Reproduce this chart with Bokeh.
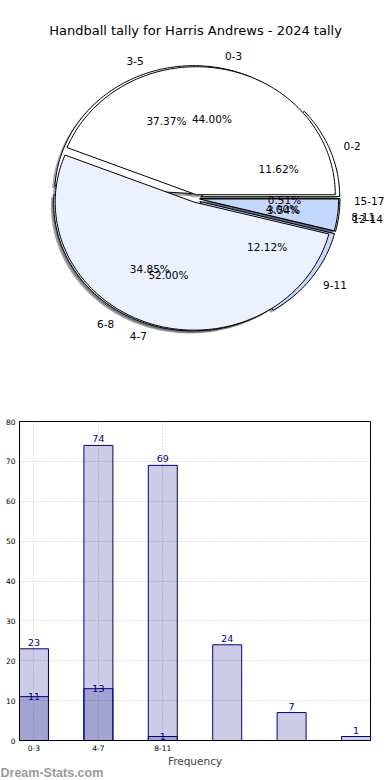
import numpy as np
from bokeh.plotting import figure
from bokeh.models import ColumnDataSource, Label, FixedTicker, Range1d, Title
from bokeh.embed import file_html
from bokeh.resources import INLINE
from bokeh.core.properties import value

# ---------------- data ----------------
chart_title = "Handball tally for Harris Andrews - 2024 tally"
fine_labels = ["0-2", "3-5", "6-8", "9-11", "12-14", "15-17"]
fine_counts = [23, 74, 69, 24, 7, 1]
coarse_labels = ["0-3", "4-7", "8-11"]
coarse_counts = [11, 13, 1]
x_axis_title = "Frequency"
y_tick_values = [0, 10, 20, 30, 40, 50, 60, 70, 80]
watermark_text = "Dream-Stats.com"

# ---------------- styles ----------------
FONT = "DejaVu Sans"
fine_colors = ["#ffffff", "#ffffff", "#ebf1fe", "#c4d7fc", "#c4d7fc", "#9fbff9"]
coarse_colors = ["#ffffff", "#ebf1fe", "#c4d7fc"]
BAR_COLOR = "navy"

PW, PH = 390, 400          # pie figure size
RX, RY = 139.0, 128.0      # pie radii in px
CX, CY = 195.0, 198.0      # pie centre, px from figure top-left


def shade(hexcol):
    h = hexcol.lstrip("#")
    r, g, b = (int(h[i:i + 2], 16) for i in (0, 2, 4))
    return "#%02x%02x%02x" % (int(r * 0.3), int(g * 0.3), int(b * 0.3))


def pie_parts(counts, names, explode, colors):
    fr = np.asarray(counts, float) / float(sum(counts))
    ends = np.cumsum(fr) * 2 * np.pi
    starts = ends - fr * 2 * np.pi
    mids = (starts + ends) / 2
    ox = explode * np.cos(mids)
    oy = explode * np.sin(mids)
    xs, ys, sxs, sys_ = [], [], [], []
    for s, e, x0, y0 in zip(starts, ends, ox, oy):
        n = max(int((e - s) / (2 * np.pi) * 240) + 3, 4)
        t = np.linspace(s, e, n)
        px = np.concatenate([[x0], x0 + np.cos(t)])
        py = np.concatenate([[y0], y0 + np.sin(t)])
        xs.append(px.tolist()); ys.append(py.tolist())
        sxs.append((px - 0.02).tolist()); sys_.append((py - 0.02).tolist())
    wedges = dict(xs=xs, ys=ys, fill=list(colors))
    shadows = dict(xs=sxs, ys=sys_, fill=[shade(c) for c in colors])
    lx = ox + 1.1 * np.cos(mids)
    ly = oy + 1.1 * np.sin(mids)
    px_ = ox + 0.6 * np.cos(mids)
    py_ = oy + 0.6 * np.sin(mids)
    pct = ["%.2f%%" % (f * 100) for f in fr]
    left = dict(x=[], y=[], t=[])
    right = dict(x=[], y=[], t=[])
    for x, y, nm in zip(lx, ly, names):
        d = left if x > 0 else right
        d["x"].append(x); d["y"].append(y); d["t"].append(nm)
    pcts = dict(x=px_.tolist(), y=py_.tolist(), t=pct)
    return wedges, shadows, left, right, pcts


fine = pie_parts(fine_counts, fine_labels, 0.04, fine_colors)
coarse = pie_parts(coarse_counts, coarse_labels, 0.03, coarse_colors)

pie = figure(width=PW, height=PH, output_backend="svg", toolbar_location=None,
             x_range=Range1d(-CX / RX, (PW - CX) / RX),
             y_range=Range1d(-(PH - CY) / RY, CY / RY),
             x_axis_type=None, y_axis_type=None, min_border=0)
pie.outline_line_color = None
pie.grid.visible = False

for part in (fine, coarse):
    pie.patches("xs", "ys", source=ColumnDataSource(part[1]), fill_color="fill",
                fill_alpha=0.5, line_color=None)
for part in (fine, coarse):
    pie.patches("xs", "ys", source=ColumnDataSource(part[0]), fill_color="fill",
                line_color="black", line_width=1)
for part in (fine, coarse):
    for src, al in ((part[2], "left"), (part[3], "right"), (part[4], "center")):
        pie.text("x", "y", "t", source=ColumnDataSource(src), text_align=al,
                 text_baseline="middle", text_font=value(FONT), text_font_size="10.5px",
                 text_color="black")

pie.add_layout(Label(x=195, y=PH - 30, x_units="screen", y_units="screen",
                     text=chart_title, text_align="center", text_baseline="middle",
                     text_font=FONT, text_font_size="13px", text_color="black"))

# ---------------- bar chart ----------------
fine_x = list(range(len(fine_counts)))
coarse_x = list(range(len(coarse_counts)))

bar = figure(width=390, height=380, output_backend="svg", toolbar_location=None,
             x_range=Range1d(-0.225, len(fine_counts) - 1 + 0.225),
             y_range=Range1d(y_tick_values[0], y_tick_values[-1]),
             min_border_left=19, min_border_right=20, min_border_top=21,
             min_border_bottom=40)
bar.outline_line_color = "black"
bar.outline_line_alpha = 1

bar.vbar(x=fine_x, top=fine_counts, width=0.45, fill_color=BAR_COLOR, fill_alpha=0.2,
         line_color=BAR_COLOR, line_width=1)
bar.vbar(x=coarse_x, top=coarse_counts, width=0.45, fill_color=BAR_COLOR, fill_alpha=0.2,
         line_color=BAR_COLOR, line_width=1)

bar.text(x=fine_x, y=fine_counts, text=[str(v) for v in fine_counts], text_align="center",
         text_baseline="bottom", y_offset=-3, text_font=value(FONT),
         text_font_size="9.5px", text_color=BAR_COLOR)
bar.text(x=coarse_x, y=coarse_counts, text=[str(v) for v in coarse_counts],
         text_align="center", text_baseline="bottom", y_offset=3, text_font=value(FONT),
         text_font_size="9.5px", text_color=BAR_COLOR)

bar.xaxis.ticker = FixedTicker(ticks=coarse_x)
bar.xaxis.major_label_overrides = {i: lab for i, lab in zip(coarse_x, coarse_labels)}
bar.yaxis.ticker = FixedTicker(ticks=y_tick_values)
for ax in (bar.xaxis, bar.yaxis):
    ax.major_tick_line_color = None
    ax.minor_tick_line_color = None
    ax.major_tick_out = 0
    ax.major_tick_in = 0
    ax.minor_tick_out = 0
    ax.minor_tick_in = 0
    ax.axis_line_color = "black"
    ax.major_label_text_font = FONT
    ax.major_label_text_font_size = "7.5px"
    ax.major_label_text_color = "black"
bar.yaxis.major_label_standoff = 4
bar.xaxis.major_label_standoff = 4
bar.xaxis.axis_label = x_axis_title
bar.xaxis.axis_label_text_font = FONT
bar.xaxis.axis_label_text_font_size = "10.5px"
bar.xaxis.axis_label_text_font_style = "normal"
bar.xaxis.axis_label_standoff = 1
bar.grid.grid_line_color = "#c0c0c0"
bar.grid.grid_line_dash = "1 2"
bar.grid.grid_line_width = 1

bar.add_layout(Title(text=watermark_text, align="left", offset=-19, standoff=-11,
                     text_font="Liberation Sans", text_font_size="12.5px",
                     text_font_style="bold", text_color="#9a9a9a"), "below")

open("out.html", "w").write(file_html([pie, bar], INLINE))
